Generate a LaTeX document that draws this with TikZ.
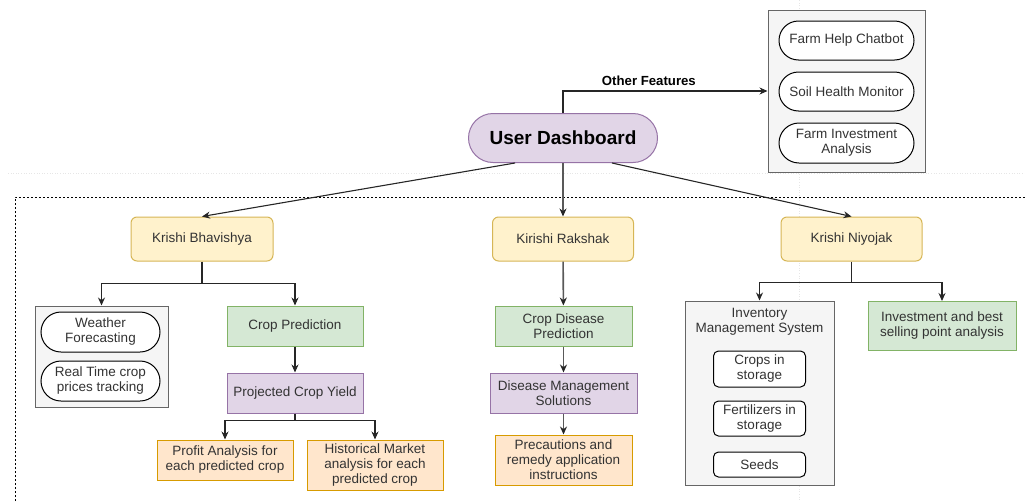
\documentclass[tikz,border=0pt]{standalone}
\usepackage{fontspec}
\setmainfont{Liberation Sans}
\usetikzlibrary{arrows.meta,shapes.misc}
\definecolor{purF}{HTML}{E1D5E7}
\definecolor{purD}{HTML}{9673A6}
\definecolor{yelF}{HTML}{FFF2CC}
\definecolor{yelD}{HTML}{D6B656}
\definecolor{grnF}{HTML}{D5E8D4}
\definecolor{grnD}{HTML}{82B366}
\definecolor{orgF}{HTML}{FFE6CC}
\definecolor{orgD}{HTML}{D79B00}
\definecolor{gryF}{HTML}{F5F5F5}
\definecolor{gryD}{HTML}{666666}
\definecolor{txt}{HTML}{333333}
\definecolor{faint}{HTML}{E6E6E6}
\tikzset{
  base/.style={draw, line width=1pt, text=txt, align=center, inner sep=1pt,
    font=\fontsize{13.5}{15}\selectfont},
  purbox/.style={base, fill=purF, draw=purD},
  yelbox/.style={base, fill=yelF, draw=yelD, rounded corners=6pt},
  grnbox/.style={base, fill=grnF, draw=grnD},
  orgbox/.style={base, fill=orgF, draw=orgD},
  grybox/.style={base, fill=gryF, draw=gryD},
  pill/.style={base, fill=white, draw=black, shape=rounded rectangle},
  rbox/.style={base, fill=white, draw=black, rounded corners=5pt},
  arr/.style={draw=black!85, line width=1.1pt, -{Stealth[length=8pt,width=7pt]}},
  grayarr/.style={draw=black!65, line width=1.6pt, -{Stealth[length=8pt,width=7pt,color=black!85]}},
  conn/.style={draw=black!85, line width=1.1pt},
}
\begin{document}
\begin{tikzpicture}[x=1pt,y=-1pt]
\useasboundingbox (0,0) rectangle (1025,501);
% faint page lines
\draw[faint, dotted, line width=0.6pt] (8,173) -- (1025,173);
\draw[faint, dotted, line width=0.6pt] (799,0) -- (799,501);
% dotted frame
\draw[line width=1pt, dash pattern=on 2pt off 2pt] (15,501) -- (15,197) -- (1025,197);

% top
\node[purbox, shape=rounded rectangle, minimum width=191pt, minimum height=49pt,
  font=\fontsize{19}{21}\selectfont\bfseries, text=black] (dash) at (563,138) {User Dashboard};
\node[grybox, minimum width=157pt, minimum height=162pt] (other) at (846.5,91) {};
\node[pill, minimum width=137pt, minimum height=39pt] (chat) at (846.5,40.5) {Farm Help Chatbot};
\node[pill, minimum width=137pt, minimum height=39pt] (soil) at (846.5,91.5) {Soil Health Monitor};
\node[pill, minimum width=137pt, minimum height=40pt] (fia) at (846.5,143) {Farm Investment\\Analysis};

\draw[arr] (dash.north) |- (other.west)
  node[pos=0.71, above=1pt, font=\fontsize{13.2}{15}\selectfont\bfseries, text=black] (oflabel) {Other Features};

% level 2
\node[yelbox, minimum width=142pt, minimum height=44pt] (kb) at (202,239) {Krishi Bhavishya};
\node[yelbox, minimum width=141pt, minimum height=44pt] (kr) at (563,239) {Kirishi Rakshak};
\node[yelbox, minimum width=141pt, minimum height=44pt] (kn) at (851.5,239) {Krishi Niyojak};

\draw[arr] ([xshift=-48]dash.south) -- (kb.north);
\draw[grayarr] (dash.south) -- (kr.north);
\draw[arr] ([xshift=49]dash.south) -- (kn.north);

% Bhavishya column
\node[grybox, minimum width=133pt, minimum height=101pt] (wbox) at (101.5,356.5) {};
\node[pill, minimum width=121pt, minimum height=40pt] (wf) at (100.5,332) {Weather\\Forecasting};
\node[pill, minimum width=121pt, minimum height=40pt] (rt) at (100.5,381) {Real Time crop\\prices tracking};
\node[grnbox, minimum width=136pt, minimum height=40pt] (cp) at (295,326) {Crop Prediction};
\node[purbox, minimum width=136pt, minimum height=40pt] (pcy) at (295,393) {Projected Crop Yield};
\node[orgbox, minimum width=136pt, minimum height=40pt] (pa) at (225,460) {Profit Analysis for\\each predicted crop};
\node[orgbox, minimum width=136pt, minimum height=50pt] (hm) at (375,465) {Historical Market\\analysis for each\\predicted crop};

\draw[conn] (kb.south) -- ++(0,22) coordinate (kbj);
\draw[arr] (kbj) -| (wbox.north);
\draw[arr] (kbj) -| (cp.north);
\draw[arr] (cp) -- (pcy);
\draw[conn] (pcy.south) -- ++(0,7) coordinate (pj);
\draw[arr] (pj) -| (pa.north);
\draw[arr] (pj) -| (hm.north);

% Rakshak column
\node[grnbox, minimum width=137pt, minimum height=40pt] (cdp) at (563.5,326) {Crop Disease\\Prediction};
\node[purbox, minimum width=147pt, minimum height=40pt] (dms) at (563.5,393) {Disease Management\\Solutions};
\node[orgbox, minimum width=137pt, minimum height=50pt] (pra) at (563.5,460) {Precautions and\\remedy application\\instructions};
\draw[grayarr] (kr) -- (cdp);
\draw[grayarr] (cdp) -- (dms);
\draw[grayarr] (dms) -- (pra);

% Niyojak column
\node[grybox, minimum width=149pt, minimum height=184pt] (inv) at (759.5,393) {};
\node[base, draw=none, text=txt] (invt) at (759.5,322) {Inventory\\Management System};
\node[rbox, minimum width=92pt, minimum height=36pt] (cis) at (759.5,369) {Crops in\\storage};
\node[rbox, minimum width=92pt, minimum height=35pt] (fis) at (759.5,418.5) {Fertilizers in\\storage};
\node[rbox, minimum width=92pt, minimum height=25pt] (seeds) at (759.5,464.5) {Seeds};
\node[grnbox, minimum width=148pt, minimum height=49pt] (ibs) at (942,326) {Investment and best\\selling point analysis};

\draw[conn] (kn.south) -- ++(0,21) coordinate (knj);
\draw[arr] (knj) -| (inv.north);
\draw[arr] (knj) -| (ibs.north);
\end{tikzpicture}
\end{document}
